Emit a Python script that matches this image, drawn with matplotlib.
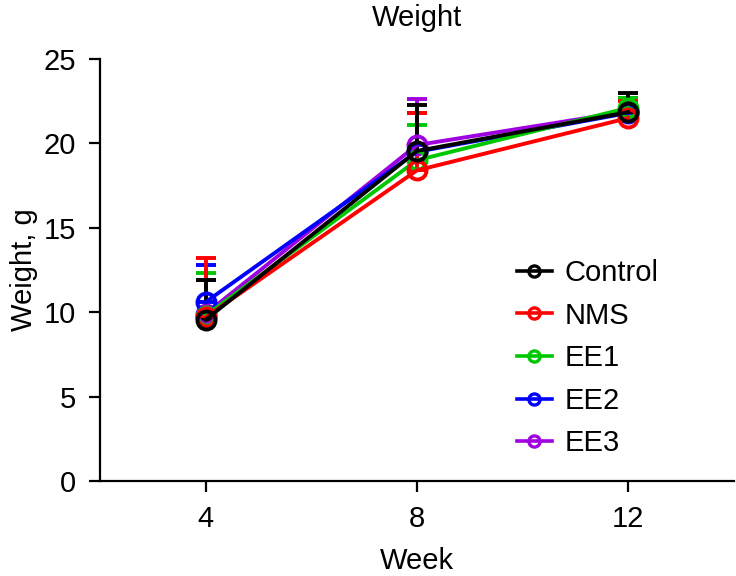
import matplotlib.pyplot as plt
from matplotlib.lines import Line2D

plt.rcParams['font.family'] = ['Liberation Sans', 'DejaVu Sans']

weeks = [4, 8, 12]
groups = ["Control", "NMS", "EE1", "EE2", "EE3"]
colors = ["#000000", "#FF0000", "#00C800", "#0000FF", "#A000E0"]

# mean weight (g) and upper SD per group
means = {
    "Control": [9.55, 19.55, 21.85],
    "NMS": [9.7, 18.4, 21.5],
    "EE1": [9.8, 19.0, 22.1],
    "EE2": [10.6, 19.5, 21.8],
    "EE3": [9.9, 19.9, 21.9],
}
sds = {
    "Control": [2.35, 2.75, 1.15],
    "NMS": [3.5, 3.4, 1.0],
    "EE1": [2.5, 2.1, 0.6],
    "EE2": [2.2, 2.3, 0.9],
    "EE3": [2.0, 2.7, 0.8],
}

fig = plt.figure(figsize=(7.36, 5.76), dpi=100)
ax = fig.add_axes([0.1359, 0.165, 0.861, 0.7326])

# draw back to front so Control sits on top
for name, col in reversed(list(zip(groups, colors))):
    m = means[name]
    s = sds[name]
    ax.errorbar(weeks, m, yerr=[[0] * len(s), s], color=col, lw=2.8,
                marker='o', ms=13, mfc='none', mec=col, mew=2.8,
                capsize=7, capthick=2.8, elinewidth=2.8)

handles = [Line2D([], [], color=c, lw=2.6, marker='o', ms=8, mfc='none',
                  mec=c, mew=2.4) for c in colors]
ax.legend(handles, groups, loc='upper left', bbox_to_anchor=(0.616, 0.588),
          frameon=False, fontsize=21, handlelength=1.2,
          labelspacing=0.5, handletextpad=0.45)

ax.set_xlim(2, 14)
ax.set_ylim(0, 25)
ax.set_xticks(weeks)
ax.set_yticks([0, 5, 10, 15, 20, 25])
ax.tick_params(labelsize=21, width=1.6, length=8, direction='out', pad=9.5)

for side in ['top', 'right']:
    ax.spines[side].set_visible(False)
for side in ['left', 'bottom']:
    ax.spines[side].set_linewidth(1.6)

ax.set_title("Weight", fontsize=21, pad=24)
ax.set_xlabel("Week", fontsize=21, labelpad=10)
ax.set_ylabel("Weight, g", fontsize=21, labelpad=4)

fig.savefig("out.png", dpi=100)
